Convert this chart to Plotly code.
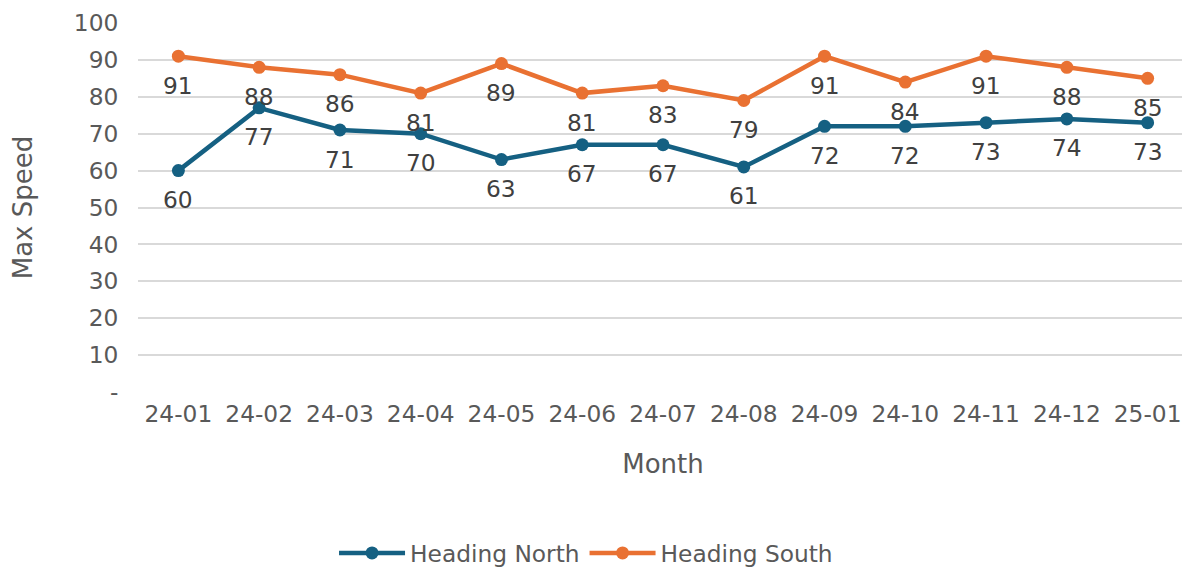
import plotly.graph_objects as go

months = ["24-01", "24-02", "24-03", "24-04", "24-05", "24-06", "24-07",
          "24-08", "24-09", "24-10", "24-11", "24-12", "25-01"]
heading_north = [60, 77, 71, 70, 63, 67, 67, 61, 72, 72, 73, 74, 73]
heading_south = [91, 88, 86, 81, 89, 81, 83, 79, 91, 84, 91, 88, 85]
y_ticks = [0, 10, 20, 30, 40, 50, 60, 70, 80, 90, 100]
y_ticktext = ["-", "10", "20", "30", "40", "50", "60", "70", "80", "90", "100"]

FONT = "DejaVu Sans"
BLUE = "#156082"
ORANGE = "#E97132"
FS = 23.3

fig = go.Figure()
annotations = []
for name, vals, color in [("Heading North", heading_north, BLUE),
                          ("Heading South", heading_south, ORANGE)]:
    fig.add_trace(go.Scatter(
        x=months, y=vals, name=name, mode="lines+markers",
        line=dict(color=color, width=4.5),
        marker=dict(color=color, size=13),
        cliponaxis=False,
    ))
    for m, v in zip(months, vals):
        annotations.append(dict(
            x=m, y=v, xref="x", yref="y", text=str(v), showarrow=False,
            yshift=-29, yanchor="middle", xanchor="center",
            font=dict(family=FONT, size=FS, color="#404040"),
        ))

fig.update_layout(
    width=1182, height=570,
    margin=dict(l=130, r=2, t=15, b=186),
    paper_bgcolor="white", plot_bgcolor="white",
    font=dict(family=FONT, size=FS, color="#595959"),
    showlegend=True,
    annotations=annotations,
    legend=dict(orientation="h", x=0.4267, xanchor="center",
                y=-0.437, yanchor="middle",
                font=dict(family=FONT, size=FS, color="#595959"), itemwidth=66),
    xaxis=dict(
        type="category", range=[-0.5, 12.5],
        showgrid=False, zeroline=False, showline=False,
        ticks="outside", ticklen=1, tickcolor="rgba(0,0,0,0)",
        tickfont=dict(size=FS, color="#595959"),
        title=dict(text="Month", font=dict(size=26, color="#595959"), standoff=28),
        automargin=False,
    ),
    yaxis=dict(
        range=[0, 100], tickvals=y_ticks, ticktext=y_ticktext,
        showgrid=True, gridcolor="#D9D9D9", gridwidth=2,
        zeroline=False, showline=False,
        ticks="outside", ticklen=14, tickcolor="rgba(0,0,0,0)",
        ticklabeloverflow="allow",
        tickfont=dict(size=FS, color="#595959"),
        title=dict(text="Max Speed", font=dict(size=26, color="#595959"), standoff=54),
        automargin=False,
    ),
)

fig.write_html("out.html")
